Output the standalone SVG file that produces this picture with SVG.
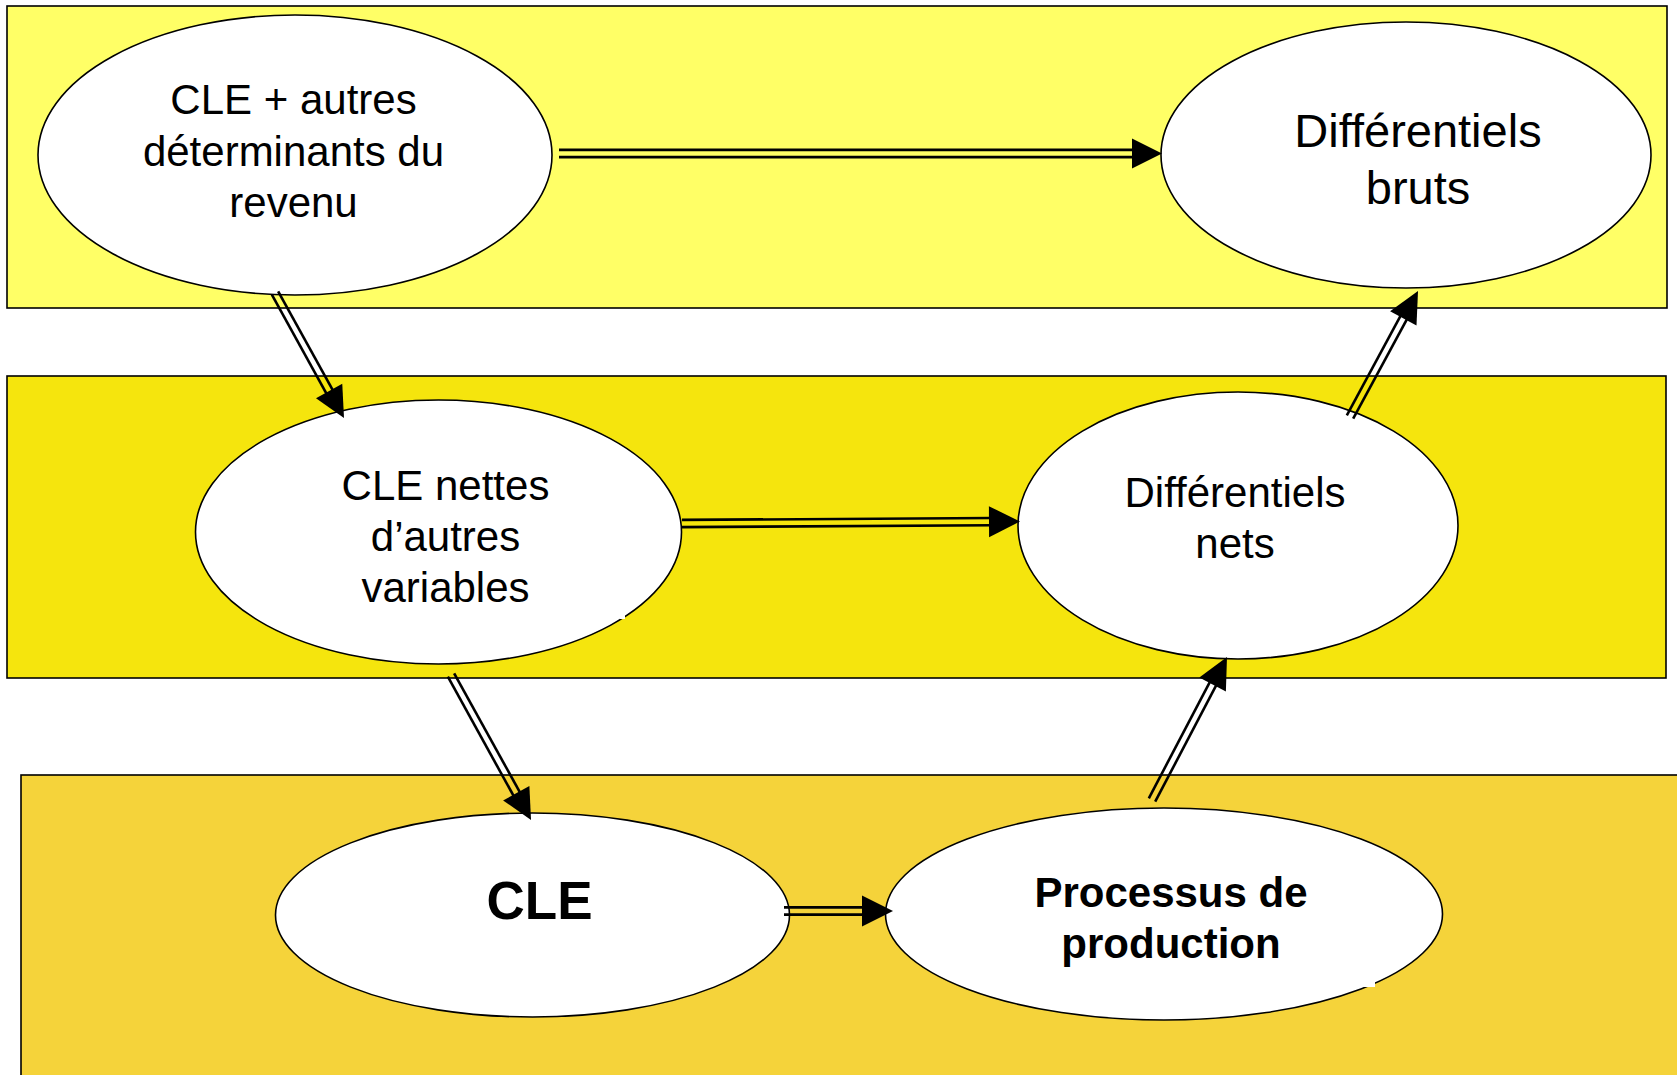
<svg xmlns="http://www.w3.org/2000/svg" width="1677" height="1075" viewBox="0 0 1677 1075">
<style>
.band{stroke:#000;stroke-width:1.6}
.node ellipse{fill:#fff;stroke:#000;stroke-width:1.6}
.node text{font-family:"Liberation Sans",Arial,sans-serif;fill:#000;text-anchor:middle}
.conn line{stroke:#000;stroke-width:2.6}
.conn polygon{fill:#000}
</style>
<rect width="1677" height="1075" fill="#fff"/>
<g id="bands">
<rect class="band" x="7" y="6" width="1660" height="302" fill="#FFFF66"/>
<rect class="band" x="7" y="376" width="1659" height="302" fill="#F5E50D"/>
<rect class="band" x="21" y="775" width="1670" height="320" fill="#F5D33A"/>
</g>
<g id="node-cle-autres" class="node">
<ellipse cx="295" cy="155" rx="257" ry="140"/>
<text font-size="42"><tspan x="293.5" y="114">CLE + autres</tspan><tspan x="293.5" y="165.5">déterminants du</tspan><tspan x="293.5" y="217">revenu</tspan></text>
</g>
<g id="node-diff-bruts" class="node">
<ellipse cx="1406" cy="155" rx="245" ry="133"/>
<text font-size="47"><tspan x="1418" y="147">Différentiels</tspan><tspan x="1418" y="204">bruts</tspan></text>
</g>
<g id="node-cle-nettes" class="node">
<ellipse cx="438.5" cy="532" rx="243" ry="132"/>
<text font-size="42"><tspan x="445.5" y="500">CLE nettes</tspan><tspan x="445.5" y="551">d’autres</tspan><tspan x="445.5" y="602">variables</tspan></text>
<rect x="620" y="615" width="5" height="4" fill="#fff"/>
</g>
<g id="node-diff-nets" class="node">
<ellipse cx="1238" cy="525.5" rx="220" ry="133.5"/>
<text font-size="42"><tspan x="1235" y="507">Différentiels</tspan><tspan x="1235" y="558">nets</tspan></text>
</g>
<g id="node-cle" class="node">
<ellipse cx="532.5" cy="915" rx="257" ry="102"/>
<text font-size="53" font-weight="bold"><tspan x="539.5" y="919">CLE</tspan></text>
</g>
<g id="node-processus" class="node">
<ellipse cx="1164" cy="914" rx="278.5" ry="106"/>
<text font-size="42" font-weight="bold"><tspan x="1171" y="907">Processus de</tspan><tspan x="1171" y="958">production</tspan></text>
<rect x="1364" y="981" width="11" height="6" fill="#fff"/>
</g>
<g id="connectors" class="conn">
<g transform="translate(559,153.5)"><line x1="0" y1="-3.6" x2="575" y2="-3.6"/><line x1="0" y1="3.6" x2="575" y2="3.6"/><polygon points="603,0 573,-15 573,15"/></g>
<g transform="translate(275,293) rotate(61.1)"><line x1="0" y1="-3.6" x2="115" y2="-3.6"/><line x1="0" y1="3.6" x2="115" y2="3.6"/><polygon points="142.8,0 112,-15 112,15"/></g>
<g transform="translate(451,675) rotate(61.1)"><line x1="0" y1="-3.6" x2="137" y2="-3.6"/><line x1="0" y1="3.6" x2="137" y2="3.6"/><polygon points="165.6,0 135,-15 135,15"/></g>
<g transform="translate(682,523.5) rotate(-0.34)"><line x1="0" y1="-3.6" x2="310" y2="-3.6"/><line x1="0" y1="3.6" x2="310" y2="3.6"/><polygon points="338,0 307,-15.5 307,15.5"/></g>
<g transform="translate(784,911)"><line x1="0" y1="-3.6" x2="80" y2="-3.6"/><line x1="0" y1="3.6" x2="80" y2="3.6"/><polygon points="109,0 78,-15.5 78,15.5"/></g>
<g transform="translate(1152,800) rotate(-62.33)"><line x1="0" y1="-3.6" x2="133" y2="-3.6"/><line x1="0" y1="3.6" x2="133" y2="3.6"/><polygon points="161.5,0 130.5,-15 130.5,15"/></g>
<g transform="translate(1350,417) rotate(-61.64)"><line x1="0" y1="-3.6" x2="115" y2="-3.6"/><line x1="0" y1="3.6" x2="115" y2="3.6"/><polygon points="143.2,0 112.2,-15 112.2,15"/></g>
</g>
</svg>
